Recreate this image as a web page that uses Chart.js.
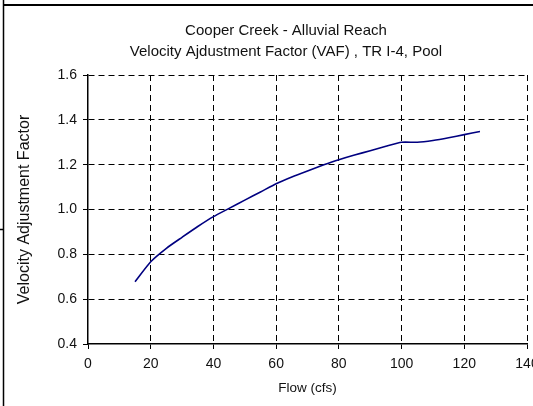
<!DOCTYPE html>
<html>
<head>
<meta charset="utf-8">
<script src="https://cdn.jsdelivr.net/npm/chart.js@4/dist/chart.umd.min.js"></script>
<style>
  html, body { margin: 0; padding: 0; background: #fff; }
  #box { width: 533px; height: 406px; }
</style>
</head>
<body>
<div id="box"><canvas id="vafChart"></canvas></div>
<script>
// flow (cfs) and velocity adjustment factor
const flow = [15, 20, 25, 30, 35, 40, 45, 50, 55, 60, 65, 70, 75, 80, 85, 90, 95, 100, 105, 110, 115, 120, 125];
const vaf = [0.678, 0.767, 0.827, 0.876, 0.924, 0.968, 1.005, 1.042, 1.078, 1.115, 1.145, 1.172, 1.198, 1.222, 1.243, 1.262, 1.282, 1.300, 1.300, 1.308, 1.320, 1.334, 1.348];
const titleLines = ["Cooper Creek - Alluvial Reach", "Velocity Ajdustment Factor (VAF) , TR I-4, Pool"];
const xTitle = "Flow (cfs)";
const yTitle = "Velocity Adjustment Factor";

const fonte = "'Liberation Sans', Arial, sans-serif";

// outer frame lines and the two title lines
const moldura = {
    id: "moldura",
    beforeDraw(chart) {
        const c = chart.ctx;
        c.save();
        c.fillStyle = "#fff";
        c.fillRect(0, 0, chart.width, chart.height);
        c.strokeStyle = "#000";
        c.lineWidth = 2;
        c.beginPath();
        c.moveTo(3, 5);
        c.lineTo(chart.width, 5);
        c.stroke();
        c.lineWidth = 1.5;
        c.beginPath();
        c.moveTo(3.5, 0);
        c.lineTo(3.5, chart.height);
        c.moveTo(0, 229.5);
        c.lineTo(3.5, 229.5);
        c.stroke();
        c.fillStyle = "#111";
        c.font = "15px " + fonte;
        c.textAlign = "center";
        c.textBaseline = "middle";
        titleLines.forEach((t, i) => c.fillText(t, 286, 31 + i * 21));
        c.restore();
    }
};

// no dashed grid line on top of the solid axis lines
const gridColor = c => (c.index === 0 ? "rgba(0,0,0,0)" : "#000");

const ctx = document.getElementById("vafChart").getContext("2d");
const chart = new Chart(ctx, {
    type: "line",
    data: {
        datasets: [{
            data: flow.map((f, i) => ({ x: f, y: vaf[i] })),
            borderColor: "#000080",
            borderWidth: 1.6,
            pointRadius: 0,
            tension: 0.2,
            fill: false
        }]
    },
    options: {
        animation: false,
        responsive: true,
        maintainAspectRatio: false,
        layout: { padding: { top: 75, right: 6, left: 0, bottom: 0 } },
        plugins: {
            legend: { display: false },
            title: { display: false },
            tooltip: { enabled: false }
        },
        scales: {
            x: {
                type: "linear",
                min: 0,
                max: 140,
                ticks: { stepSize: 20, color: "#111", font: { size: 14, family: fonte }, padding: 7, maxRotation: 0 },
                grid: { color: gridColor, lineWidth: 1, tickLength: 5, tickColor: "#000" },
                border: { color: "#000", width: 1.5, dash: [6, 4] },
                title: { display: true, text: xTitle, color: "#111", font: { size: 13.5, family: fonte }, padding: { top: 0, bottom: 10 } },
                afterFit(s) {
                    s.height = 62;
                    s.paddingLeft = 0;
                    s.paddingRight = 0;
                }
            },
            y: {
                min: 0.4,
                max: 1.6,
                ticks: { stepSize: 0.2, color: "#111", font: { size: 14, family: fonte }, padding: 6, callback: v => v.toFixed(1) },
                grid: { color: gridColor, lineWidth: 1, tickLength: 5, tickColor: "#000" },
                border: { color: "#000", width: 1.5, dash: [6, 4] },
                title: { display: true, text: yTitle, color: "#111", font: { size: 16, family: fonte }, padding: { top: 15, bottom: 0 } },
                afterFit(s) {
                    s.width = 88;
                }
            }
        }
    },
    plugins: [moldura]
});
</script>
</body>
</html>
